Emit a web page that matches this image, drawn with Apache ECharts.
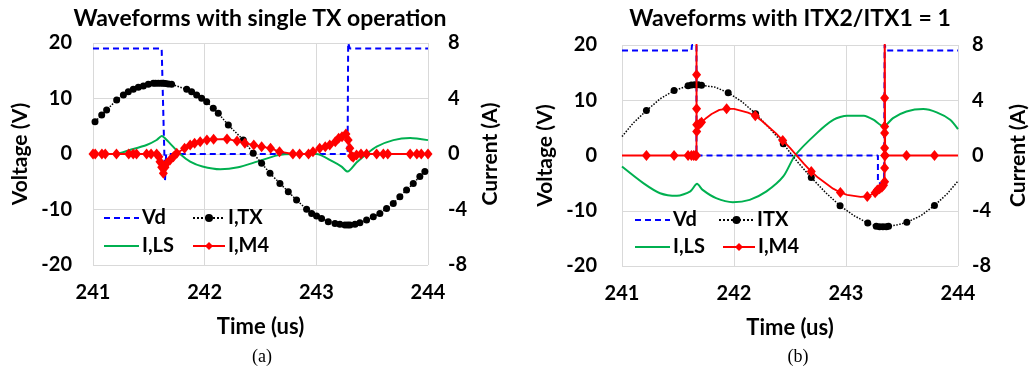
<!DOCTYPE html>
<html><head><meta charset="utf-8">
<script src="https://cdn.jsdelivr.net/npm/echarts@6/dist/echarts.min.js"></script>
<style>html,body{margin:0;padding:0;background:#fff}#c{width:1033px;height:369px}</style>
</head><body><div id="c"></div>
<script>
// ---------- tick labels / titles ----------
const titleA = 'Waveforms with single TX operation';
const titleB = 'Waveforms with ITX2/ITX1 = 1';
const xTicks = [241, 242, 243, 244];
const vTicks = [-20, -10, 0, 10, 20];
const iTicks = [-8, -4, 0, 4, 8];

// ---------- (a) single TX operation : [time us, value] ----------
const vdA = [[241,19],[241.615,19],[241.645,-4.7],[241.655,0],[243.28,0],[243.285,20],[243.3,19],[244,19]];
const txA = [[241.018,2.33],[241.078,2.81],[241.122,3.17],[241.212,3.89],[241.272,4.25],[241.316,4.49],[241.361,4.66],[241.406,4.81],[241.451,4.90],[241.495,5.02],[241.54,5.10],[241.56,5.1],[241.585,5.10],[241.61,5.1],[241.63,5.10],[241.65,5.08],[241.674,5.05],[241.704,5.02],[241.839,4.66],[241.883,4.49],[241.928,4.25],[241.973,4.01],[242.018,3.77],[242.077,3.29],[242.122,2.93],[242.212,2.09],[242.346,1.01],[242.435,0.05],[242.51,-0.67],[242.585,-1.39],[242.674,-2.12],[242.749,-2.72],[242.823,-3.32],[242.913,-3.99],[242.958,-4.28],[243.002,-4.47],[243.047,-4.64],[243.107,-4.88],[243.167,-5.0],[243.211,-5.07],[243.256,-5.12],[243.28,-5.12],[243.301,-5.12],[243.346,-5.07],[243.39,-4.95],[243.45,-4.76],[243.51,-4.52],[243.569,-4.28],[243.629,-3.92],[243.689,-3.56],[243.748,-3.08],[243.808,-2.6],[243.868,-2.12],[243.927,-1.63],[243.972,-1.27]];
const lsA = [[241,0],[241.2,0],[241.33,0.29],[241.48,0.65],[241.57,1.01],[241.615,1.3],[241.674,0.89],[241.78,0],[241.87,-0.55],[241.98,-0.9],[242.14,-1.1],[242.3,-0.96],[242.47,-0.55],[242.65,-0.1],[242.8,0],[243.0,0],[243.15,-0.55],[243.226,-0.91],[243.28,-1.27],[243.36,-0.62],[243.45,0],[243.54,0.53],[243.69,1.0],[243.84,1.15],[244,1.0]];
const m4A = [[241.0,0],[241.02,0],[241.08,0],[241.11,0],[241.21,0],[241.32,0],[241.36,0],[241.39,0],[241.48,0],[241.52,0],[241.57,0],[241.59,-0.2],[241.60,-0.55],[241.615,-0.95],[241.63,-1.38],[241.645,-0.95],[241.66,-0.67],[241.69,-0.43],[241.72,-0.19],[241.75,0.05],[241.82,0.41],[241.87,0.65],[241.91,0.77],[241.96,0.89],[242.02,1.01],[242.08,1.06],[242.2,1.08],[242.29,0.94],[242.36,0.77],[242.44,0.65],[242.51,0.53],[242.59,0.41],[242.67,0.17],[242.79,0],[242.85,0],[242.93,0],[242.97,0.17],[243.03,0.41],[243.08,0.53],[243.12,0.65],[243.17,0.89],[243.2,1.13],[243.23,1.25],[243.265,1.44],[243.285,1.01],[243.30,0.41],[243.315,-0.14],[243.33,-0.24],[243.36,-0.07],[243.4,0],[243.45,0],[243.54,0],[243.6,0],[243.64,0],[243.84,0],[243.9,0],[243.94,0],[244,0]];

// ---------- (b) ITX2/ITX1 = 1 : [time us, value, marker?] ----------
const vdB = [[241,19],[241.62,19],[241.625,20],[241.665,20],[241.665,0],[243.285,0],[243.285,-5],[243.34,-5],[243.345,20],[243.36,19],[244,19]];
const txB = [[241,1.37,0],[241.1,2.35,0],[241.218,3.25,1],[241.34,4.1,0],[241.465,4.7,1],[241.59,5.05,1],[241.62,5.1,1],[241.65,5.12,1],[241.68,5.12,1],[241.71,5.08,1],[241.83,4.95,0],[241.948,4.55,1],[242.07,3.9,0],[242.193,3.03,1],[242.32,1.95,0],[242.44,0.85,1],[242.56,-0.4,0],[242.69,-1.6,1],[242.82,-2.7,0],[242.947,-3.64,1],[243.07,-4.35,0],[243.194,-4.89,1],[243.27,-5.12,1],[243.3,-5.15,1],[243.33,-5.15,1],[243.36,-5.15,1],[243.38,-5.12,1],[243.46,-5.02,0],[243.543,-4.84,1],[243.67,-4.35,0],[243.79,-3.62,1],[243.9,-2.8,0],[244,-1.85,0]];
const lsB = [[241,-0.8],[241.19,-2.0],[241.34,-2.73],[241.49,-2.92],[241.61,-2.6],[241.67,-2.05],[241.72,-2.49],[241.84,-3.09],[241.99,-3.38],[242.14,-3.21],[242.29,-2.6],[242.44,-1.52],[242.545,0],[242.74,1.62],[242.89,2.59],[243.01,2.88],[243.16,2.88],[243.245,2.59],[243.335,2.1],[243.42,2.71],[243.54,3.19],[243.69,3.36],[243.81,3.12],[243.93,2.59],[244,1.91]];
const m4B = [[241,0,0],[241.218,0,1],[241.465,0,1],[241.59,0,1],[241.62,0,1],[241.64,0,1],[241.655,0,1],[241.665,0,1],[241.665,12,0],[241.666,5.85,1],[241.666,3.38,1],[241.667,2.22,1],[241.667,1.74,1],[241.68,2.2,1],[241.695,2.3,1],[241.71,2.4,1],[241.75,2.7,0],[241.8,3.0,0],[241.87,3.3,0],[241.934,3.38,1],[242.0,3.38,0],[242.125,3.1,0],[242.19,2.88,1],[242.25,2.5,0],[242.375,1.6,0],[242.435,1.09,1],[242.5,0.55,0],[242.625,-0.6,0],[242.69,-1.16,1],[242.75,-1.6,0],[242.885,-2.4,0],[242.95,-2.68,1],[243.01,-2.85,0],[243.13,-3.0,0],[243.19,-2.97,1],[243.26,-2.7,1],[243.28,-2.5,1],[243.3,-2.4,1],[243.32,-2.3,1],[243.335,-2.15,1],[243.345,-1.9,1],[243.345,-0.91,1],[243.345,0,1],[243.345,0.54,1],[243.345,1.62,1],[243.345,2.1,1],[243.345,4.16,1],[243.345,12,0],[243.35,0,1],[243.54,0,1],[243.79,0,1],[244,0,0]];

// ---------- chart ----------
const FONT = 'Lato';
const BLUE = '#0000ff', GREEN = '#00b050', RED = '#ff0000', BLACK = '#000000', GRID = '#d9d9d9';
const chart = echarts.init(document.getElementById('c'), null, {renderer: 'canvas'});

const flagged = arr => arr.map(d => d[2] ? {value: [d[0], d[1]]} : {value: [d[0], d[1]], symbol: 'none'});
const lab = (sz) => ({color: BLACK, fontFamily: FONT, fontWeight: 'bold', fontSize: sz});

function xAxis(gi) {
  return {type: 'value', gridIndex: gi, min: xTicks[0], max: xTicks[xTicks.length - 1], interval: 1,
    name: 'Time (us)', nameLocation: 'middle', nameGap: 51, nameTextStyle: lab(22),
    axisLine: {show: false}, axisTick: {show: false},
    axisLabel: Object.assign({margin: 18}, lab(20)),
    splitLine: {show: true, lineStyle: {color: GRID, width: 1}}};
}
function yV(gi, gap, lm) {
  return {type: 'value', gridIndex: gi, min: vTicks[0], max: vTicks[vTicks.length - 1], interval: 10, position: 'left',
    name: 'Voltage (V)', nameLocation: 'middle', nameGap: gap, nameTextStyle: lab(21),
    axisLine: {show: false}, axisTick: {show: false},
    axisLabel: Object.assign({margin: lm}, lab(20)),
    splitLine: {show: true, lineStyle: {color: GRID, width: 1}}};
}
function yI(gi, gap, lm) {
  return {type: 'value', gridIndex: gi, min: iTicks[0], max: iTicks[iTicks.length - 1], interval: 4, position: 'right',
    name: 'Current (A)', nameLocation: 'middle', nameGap: gap, nameTextStyle: lab(21),
    axisLine: {show: false}, axisTick: {show: false},
    axisLabel: Object.assign({margin: lm}, lab(20)),
    splitLine: {show: false}};
}
function series(gi, vd, tx, txName, ls, m4, isFlag) {
  const xi = gi, yv = gi * 2, yi = gi * 2 + 1;
  return [
    {name: 'Vd', type: 'line', xAxisIndex: xi, yAxisIndex: yv, data: vd, symbol: 'none', z: 2,
      lineStyle: {color: BLUE, width: 2, type: [6, 4]}, itemStyle: {color: BLUE}},
    {name: 'I,LS', type: 'line', xAxisIndex: xi, yAxisIndex: yi, data: ls, symbol: 'none', smooth: 0.25, z: 3,
      lineStyle: {color: GREEN, width: 2}, itemStyle: {color: GREEN}},
    {name: txName, type: 'line', xAxisIndex: xi, yAxisIndex: yi, data: isFlag ? flagged(tx) : tx, symbol: 'circle', symbolSize: 7, z: 4,
      lineStyle: {color: BLACK, width: 1.5, type: 'dotted'}, itemStyle: {color: BLACK}},
    {name: 'I,M4', type: 'line', xAxisIndex: xi, yAxisIndex: yi, data: isFlag ? flagged(m4) : m4, symbol: 'diamond', symbolSize: [9, 11], z: 5,
      lineStyle: {color: RED, width: 1.8}, itemStyle: {color: RED}}
  ];
}
function leg(name, x, y, w, noSym) {
  const l = {data: [name], left: x, top: y, padding: 0, itemGap: 0, itemWidth: w, itemHeight: 10, selectedMode: false,
    textStyle: Object.assign({padding: [0, 0, 0, -2]}, lab(20))};
  if (noSym) l.itemStyle = {opacity: 0};
  return l;
}

chart.setOption({
  animation: false,
  backgroundColor: '#fff',
  title: [
    {text: titleA, left: 255, top: 2, textAlign: 'center', textStyle: lab(23)},
    {text: titleB, left: 785, top: 2, textAlign: 'center', textStyle: lab(23)},
    {text: '(a)', left: 257, top: 343, textAlign: 'center', textStyle: {color: BLACK, fontFamily: 'Liberation Serif', fontWeight: 'normal', fontSize: 18}},
    {text: '(b)', left: 793, top: 343, textAlign: 'center', textStyle: {color: BLACK, fontFamily: 'Liberation Serif', fontWeight: 'normal', fontSize: 18}}
  ],
  grid: [
    {left: 93, top: 43, width: 335, height: 222},
    {left: 622, top: 45, width: 336, height: 221}
  ],
  legend: [
    leg('Vd', 103, 208, 35, true), leg('I,TX', 192, 208, 32), leg('I,LS', 103, 236, 35, true), leg('I,M4', 192, 236, 32),
    leg('Vd', 634, 210, 35, true), leg('ITX', 718, 210, 35), leg('I,LS', 634, 237, 35, true), leg('I,M4', 722, 237, 32)
  ],
  xAxis: [xAxis(0), xAxis(1)],
  yAxis: [yV(0, 62, 21), yI(0, 52, 20), yV(1, 66, 25), yI(1, 50, 14)],
  series: [].concat(series(0, vdA, txA, 'I,TX', lsA, m4A, false), series(1, vdB, txB, 'ITX', lsB, m4B, true))
});
</script>
</body></html>
